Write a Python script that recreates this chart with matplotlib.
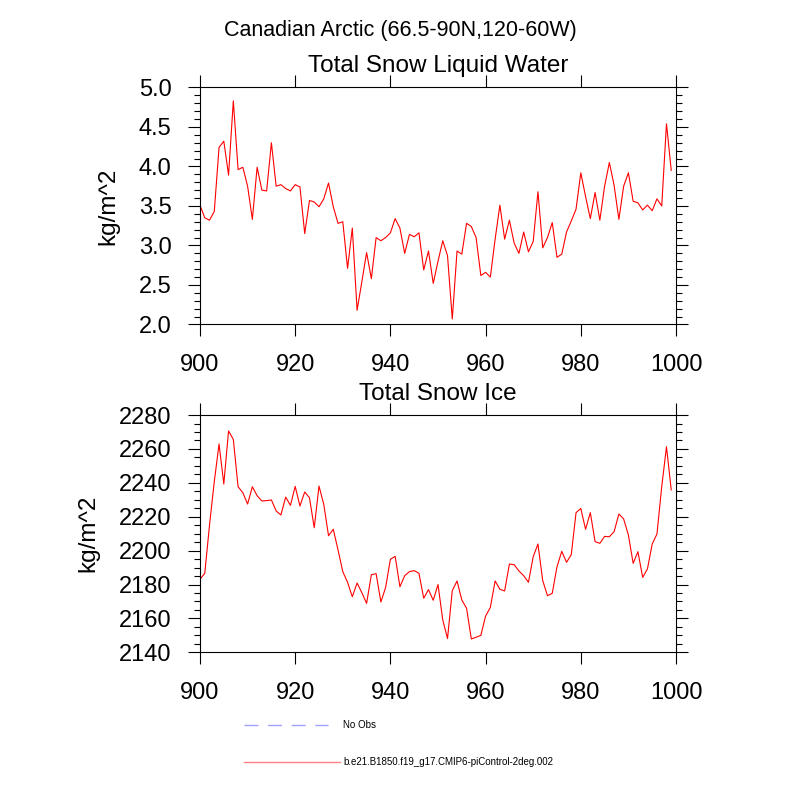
import matplotlib
matplotlib.use("Agg")
import matplotlib.pyplot as plt
import numpy as np
from matplotlib.ticker import MultipleLocator, FormatStrFormatter

plt.rcParams['font.family'] = ['Liberation Sans', 'DejaVu Sans']

# years 900..999
years = np.arange(900, 1000)

# Total Snow Liquid Water (kg/m^2)
liquid = [3.51, 3.35, 3.32, 3.43, 4.24, 4.32, 3.89, 4.83, 3.96, 3.99,
          3.75, 3.33, 3.99, 3.70, 3.69, 4.30, 3.75, 3.77, 3.72, 3.69,
          3.77, 3.74, 3.15, 3.57, 3.55, 3.49, 3.59, 3.79, 3.49, 3.28,
          3.30, 2.71, 3.22, 2.18, 2.54, 2.91, 2.58, 3.10, 3.06, 3.10,
          3.16, 3.34, 3.22, 2.90, 3.14, 3.11, 3.16, 2.69, 2.93, 2.52,
          2.80, 3.06, 2.87, 2.07, 2.93, 2.89, 3.28, 3.24, 3.10, 2.62,
          2.66, 2.60, 3.08, 3.51, 3.08, 3.32, 3.03, 2.90, 3.17, 2.92,
          3.05, 3.68, 2.97, 3.10, 3.29, 2.85, 2.89, 3.17, 3.31, 3.46,
          3.92, 3.62, 3.34, 3.67, 3.32, 3.75, 4.05, 3.76, 3.33, 3.75,
          3.92, 3.56, 3.54, 3.45, 3.51, 3.44, 3.59, 3.50, 4.54, 3.95]

# Total Snow Ice (kg/m^2)
ice = [2183.1, 2186.6, 2215.1, 2240.7, 2262.9, 2239.3, 2270.6, 2265.6, 2237.7, 2234.2,
       2227.5, 2237.7, 2232.4, 2229.3, 2229.5, 2229.9, 2223.4, 2221.0, 2231.6, 2226.7,
       2237.9, 2226.3, 2234.6, 2231.2, 2213.5, 2238.1, 2227.3, 2208.8, 2212.6, 2200.4,
       2187.6, 2181.3, 2172.8, 2180.9, 2175.2, 2168.9, 2185.8, 2186.4, 2169.7, 2178.3,
       2194.9, 2196.6, 2178.7, 2185.2, 2187.6, 2188.2, 2186.6, 2171.9, 2177.0, 2170.7,
       2180.0, 2159.1, 2148.1, 2176.4, 2182.1, 2170.9, 2166.0, 2147.9, 2148.9, 2150.0,
       2161.4, 2166.5, 2182.1, 2177.2, 2176.2, 2192.1, 2191.7, 2188.0, 2185.2, 2181.3,
       2196.4, 2203.9, 2182.3, 2173.4, 2174.8, 2190.5, 2199.6, 2193.1, 2197.6, 2222.4,
       2224.9, 2212.6, 2222.4, 2205.3, 2204.3, 2208.4, 2208.2, 2211.2, 2221.6, 2218.7,
       2209.2, 2192.5, 2199.4, 2184.2, 2189.2, 2203.9, 2209.8, 2237.7, 2261.3, 2235.8]

suptitle = "Canadian Arctic (66.5-90N,120-60W)"
titles = ["Total Snow Liquid Water", "Total Snow Ice"]
units = "kg/m^2"
legend_labels = ["No Obs", "b.e21.B1850.f19_g17.CMIP6-piControl-2deg.002"]

fig = plt.figure(figsize=(8, 8), dpi=100)
ax1 = fig.add_axes([0.25, 0.5944, 0.595, 0.2963])
ax2 = fig.add_axes([0.25, 0.1846, 0.595, 0.2966])


def style(ax, ylo, yhi, major, minor, fmt):
    ax.set_xlim(900, 1000)
    ax.set_ylim(ylo, yhi)
    ax.xaxis.set_major_locator(MultipleLocator(20))
    ax.yaxis.set_major_locator(MultipleLocator(major))
    ax.yaxis.set_minor_locator(MultipleLocator(minor))
    ax.yaxis.set_major_formatter(FormatStrFormatter(fmt))
    ax.tick_params(which='both', direction='out', top=True, right=True,
                   width=0.8, labelsize=17)
    ax.tick_params(which='major', length=8.6)
    ax.tick_params(which='minor', length=4.5)
    ax.tick_params(axis='x', pad=13)
    ax.tick_params(axis='y', pad=12)
    for s in ax.spines.values():
        s.set_linewidth(0.8)
    ax.set_ylabel(units, fontsize=17.5, labelpad=14)


ax1.plot(years, liquid, color='red', lw=0.8)
style(ax1, 2.0, 5.0, 0.5, 0.1, '%.1f')
ax1.text(0.5, 1.065, titles[0], transform=ax1.transAxes, ha='center',
         va='baseline', fontsize=17.5)

ax2.plot(years, ice, color='red', lw=0.8)
style(ax2, 2140, 2280, 20, 5, '%d')
ax2.text(0.5, 1.065, titles[1], transform=ax2.transAxes, ha='center',
         va='baseline', fontsize=17.5)

fig.text(0.5, 1 - 35.7 / 800, suptitle, ha='center', va='baseline', fontsize=15.5)

# legend drawn below the plots
lax = fig.add_axes([0, 0, 1, 1])
lax.set_xlim(0, 800)
lax.set_ylim(800, 0)
lax.axis('off')
lax.plot([244, 328], [725, 725], color='#a0a0ff', lw=1, dashes=(10, 7))
lax.text(343, 725, legend_labels[0], fontsize=7, va='center')
lax.plot([244, 340], [762, 762], color='#ff8080', lw=1)
lax.text(343, 762, legend_labels[1], fontsize=7, va='center')

fig.savefig("out.png", dpi=100)
